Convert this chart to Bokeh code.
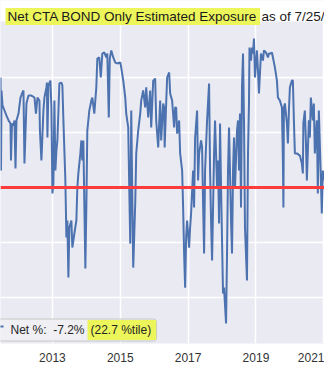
from bokeh.plotting import figure
from bokeh.models import ColumnDataSource, Span, Label, FixedTicker, NumeralTickFormatter, BoxAnnotation, Range1d
from bokeh.embed import file_html
from bokeh.resources import INLINE

title_main = "Net CTA BOND Only Estimated Exposure"
title_tail = "as of 7/25/2022"
legend_main = "Net %:\u00a0 -7.2%"
legend_pct = "(22.7 %tile)"
x_ticks = [2013, 2015, 2017, 2019, 2021]
y_ticks = [-50, -25, 0, 25, 50]
zero_level = 0

years = [2011.471, 2011.485, 2011.500, 2011.529, 2011.588, 2011.647, 2011.706, 2011.765, 2011.779, 2011.809,
         2011.853, 2011.882, 2011.912, 2011.941, 2012.000, 2012.059, 2012.118, 2012.147, 2012.176, 2012.235,
         2012.294, 2012.382, 2012.471, 2012.515, 2012.559, 2012.618, 2012.632, 2012.676, 2012.735, 2012.765,
         2012.824, 2012.838, 2012.853, 2012.882, 2012.941, 2012.971, 2013.000, 2013.029, 2013.059, 2013.088,
         2013.118, 2013.147, 2013.206, 2013.265, 2013.294, 2013.324, 2013.382, 2013.412, 2013.441, 2013.471,
         2013.500, 2013.559, 2013.588, 2013.647, 2013.706, 2013.735, 2013.765, 2013.824, 2013.853, 2013.882,
         2013.912, 2013.971, 2014.000, 2014.029, 2014.088, 2014.147, 2014.176, 2014.235, 2014.294, 2014.324,
         2014.382, 2014.426, 2014.471, 2014.529, 2014.588, 2014.618, 2014.662, 2014.691, 2014.735, 2014.794,
         2014.853, 2014.912, 2015.000, 2015.029, 2015.088, 2015.147, 2015.176, 2015.235, 2015.265, 2015.294,
         2015.324, 2015.353, 2015.382, 2015.441, 2015.471, 2015.529, 2015.588, 2015.618, 2015.676, 2015.735,
         2015.765, 2015.824, 2015.882, 2015.912, 2015.971, 2016.029, 2016.059, 2016.118, 2016.176, 2016.206,
         2016.265, 2016.294, 2016.309, 2016.353, 2016.382, 2016.441, 2016.471, 2016.529, 2016.588, 2016.618,
         2016.647, 2016.676, 2016.735, 2016.765, 2016.824, 2016.853, 2016.882, 2016.912, 2016.941, 2016.971,
         2017.029, 2017.059, 2017.088, 2017.147, 2017.176, 2017.206, 2017.265, 2017.294, 2017.324, 2017.382,
         2017.412, 2017.441, 2017.471, 2017.500, 2017.559, 2017.618, 2017.647, 2017.676, 2017.706, 2017.765,
         2017.794, 2017.853, 2017.882, 2017.912, 2017.941, 2017.971, 2018.029, 2018.059, 2018.118, 2018.147,
         2018.176, 2018.206, 2018.265, 2018.294, 2018.324, 2018.353, 2018.382, 2018.441, 2018.471, 2018.500,
         2018.529, 2018.559, 2018.588, 2018.618, 2018.647, 2018.676, 2018.735, 2018.765, 2018.794, 2018.809,
         2018.853, 2018.882, 2018.912, 2018.941, 2018.971, 2019.029, 2019.059, 2019.088, 2019.147, 2019.206,
         2019.235, 2019.294, 2019.353, 2019.382, 2019.441, 2019.471, 2019.500, 2019.559, 2019.618, 2019.647,
         2019.706, 2019.765, 2019.794, 2019.809, 2019.824, 2019.853, 2019.912, 2019.941, 2019.971, 2020.000,
         2020.059, 2020.088, 2020.118, 2020.147, 2020.206, 2020.294, 2020.353, 2020.382, 2020.397, 2020.441,
         2020.471, 2020.500, 2020.559, 2020.588, 2020.618, 2020.676, 2020.706, 2020.735, 2020.794, 2020.824,
         2020.853, 2020.912, 2020.941, 2020.971, 2021.000]

net_pct = [50.0, 7.7, 44.1, 37.3, 35.0, 32.7, 30.5, 29.1, 12.3, 29.1,
           28.2, 30.5, 8.6, 30.5, 33.6, 40.9, 43.2, 44.1, 10.9, 38.2,
           41.8, 41.8, 40.9, 33.6, 40.9, 39.5, 25.9, 12.3, 35.0, 40.9,
           45.5, 47.7, 22.7, 46.4, 48.6, 36.4, -2.7, 1.8, 39.5, 7.7,
           16.8, 21.4, 47.3, 47.7, 46.4, 30.5, 3.2, -22.7, -15.0, -40.9,
           -18.2, -15.0, -27.3, -20.9, -15.0, 0.0, 6.4, 15.5, 21.4, 12.3,
           21.4, -36.8, -9.1, 25.9, 35.0, 39.5, 40.9, 33.6, 45.5, 58.6,
           59.1, 50.0, 60.9, 61.4, 59.1, 60.9, 31.8, 58.6, 62.3, 59.1,
           56.8, 56.4, 56.8, 54.5, 48.6, 40.9, 33.6, 27.3, 0.0, -25.5,
           35.0, -2.7, -36.4, -7.3, 15.5, 25.9, 33.6, 39.5, 44.1, 36.4,
           45.5, 31.8, 44.1, 27.3, 48.6, 49.5, 30.5, 18.2, 39.5, 21.4,
           38.2, 36.4, 18.2, 38.2, 50.0, 52.3, 42.7, 39.5, 27.3, 36.4,
           36.4, 24.5, 30.5, 15.5, 7.7, -9.1, -30.0, -45.5, -22.7, -15.0,
           -27.3, -18.2, -11.8, 7.7, -9.1, 22.7, 35.0, 3.2, 15.5, 21.4,
           18.2, -7.3, -30.0, 7.7, 30.5, 47.3, 7.7, -15.0, -33.2, 15.5,
           30.5, 0.0, 12.3, -16.4, 29.1, 0.0, -48.2, -45.5, -61.8, -30.0,
           7.7, 27.3, -15.0, -30.0, 7.7, 22.7, 0.0, 25.9, 30.5, 7.7,
           33.6, -9.1, 45.5, 60.9, 30.5, -18.2, -42.3, 15.5, 38.2, 63.6,
           57.7, 63.6, 60.9, 67.7, 50.0, 62.3, 53.2, 42.7, 60.9, 57.7,
           62.3, 61.4, 59.1, 60.9, 60.9, 61.4, 59.1, 54.5, 48.6, 40.9,
           39.5, 36.4, 12.3, -9.1, 36.4, 38.2, 29.1, 20.0, 35.0, 45.5,
           48.6, 48.6, 30.5, 15.5, 15.5, 14.5, 10.9, 6.4, 29.1, 35.0,
           21.4, 3.2, 30.5, 22.7, 40.9, 30.5, 38.2, 15.5, 30.5, -2.7,
           35.0, 4.5, -11.8, 7.7, 3.2]

n = min(len(years), len(net_pct))
src = ColumnDataSource(data=dict(x=years[:n], y=net_pct[:n]))

W, H = 324, 368
TITLE_H, BOTTOM = 21, 25

p = figure(width=W, height=H, output_backend="svg", toolbar_location=None, tools="",
           x_range=Range1d(2011.47, 2021.02), y_range=Range1d(-70.9, 85.0),
           min_border=0, min_border_left=0, min_border_right=0,
           min_border_top=0, min_border_bottom=BOTTOM)
p.title.visible = False

p.background_fill_color = "#EAEAF2"
p.border_fill_color = "white"
p.outline_line_color = None

p.xgrid.ticker = FixedTicker(ticks=x_ticks)
p.ygrid.ticker = FixedTicker(ticks=y_ticks)
p.grid.grid_line_color = "white"
p.grid.grid_line_width = 1.5

p.yaxis.visible = False
xa = p.xaxis[0]
xa.ticker = FixedTicker(ticks=x_ticks)
xa.formatter = NumeralTickFormatter(format="0")
xa.axis_line_color = None
xa.major_tick_line_color = None
xa.minor_tick_line_color = None
xa.major_tick_out = 0
xa.major_tick_in = 0
xa.major_label_standoff = 9
xa.major_label_text_font = "Liberation Sans"
xa.major_label_text_font_size = "12px"
xa.major_label_text_color = "#333333"

p.line("x", "y", source=src, line_color="#4C72B0", line_width=2)

p.add_layout(Span(location=zero_level, dimension="width", line_color="#FF3B3B", line_width=3))

FONT = "Liberation Sans"
YEL = "#ECF55A"

def fy(canvas_y):
    return (H - BOTTOM) - canvas_y

# white title band above the plotting area
p.add_layout(BoxAnnotation(left=-10, right=W + 10, bottom=fy(TITLE_H), top=fy(-10),
                           left_units="screen", right_units="screen",
                           bottom_units="screen", top_units="screen",
                           fill_color="white", fill_alpha=1, line_color=None))

p.add_layout(Label(x=5, y=fy(16), x_units="screen", y_units="screen", text=title_main,
                   text_font=FONT, text_font_size="13.5px", text_color="#1a1a1a",
                   text_baseline="alphabetic", background_fill_color=YEL,
                   padding={"left": 2, "right": 3, "top": 1, "bottom": 1}))
p.add_layout(Label(x=261, y=fy(16), x_units="screen", y_units="screen", text=title_tail,
                   text_font=FONT, text_font_size="13.5px", text_color="#1a1a1a",
                   text_baseline="alphabetic"))

p.add_layout(Label(x=-10, y=fy(329.5), x_units="screen", y_units="screen", text=legend_main,
                   text_font=FONT, text_font_size="12px", text_color="#262626",
                   text_baseline="alphabetic", background_fill_color="#EFEFF4",
                   border_line_color="#C8C8C8", border_line_width=1, border_radius=3,
                   padding={"left": 20, "right": 72, "top": 4, "bottom": 4}))
p.add_layout(BoxAnnotation(left=-5, right=3, bottom=fy(327), top=fy(325),
                           left_units="screen", right_units="screen",
                           bottom_units="screen", top_units="screen",
                           fill_color="#4C72B0", fill_alpha=1, line_color=None))
p.add_layout(Label(x=87, y=fy(329.5), x_units="screen", y_units="screen", text=legend_pct,
                   text_font=FONT, text_font_size="12px", text_color="#262626",
                   text_baseline="alphabetic", background_fill_color=YEL,
                   padding={"left": 3, "right": 5, "top": 3, "bottom": 3}))

open("out.html", "w").write(file_html(p, INLINE))
